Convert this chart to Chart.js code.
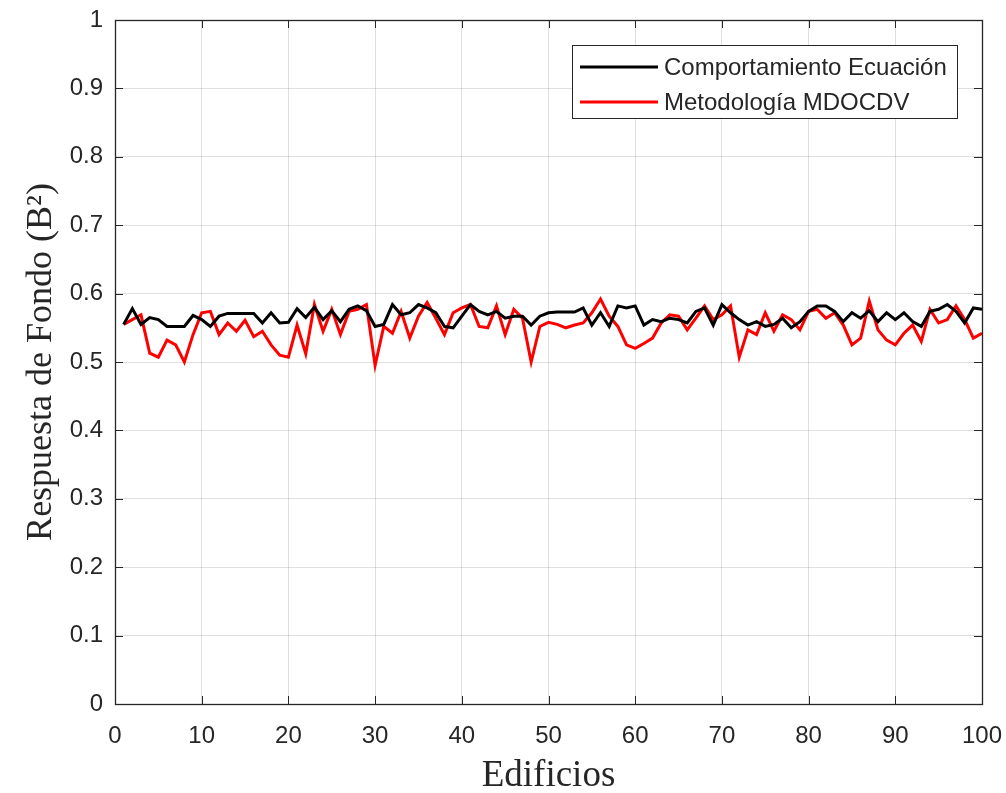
<!DOCTYPE html>
<html>
<head>
<meta charset="utf-8">
<script src="https://cdn.jsdelivr.net/npm/chart.js@4/dist/chart.umd.min.js"></script>
<style>
  html, body { margin: 0; padding: 0; background: #fff; }
  #wrap { width: 1006px; height: 793px; }
</style>
</head>
<body>
<div id="wrap"><canvas id="chart" width="1006" height="793"></canvas></div>
<script>
// ===== datos =====
const edificios = Array.from({ length: 100 }, (_, i) => i + 1);

const comportamientoEcuacion = [
  0.555, 0.578, 0.555, 0.565, 0.562, 0.552, 0.552, 0.552, 0.568, 0.562,
  0.552, 0.567, 0.571, 0.571, 0.571, 0.571, 0.557, 0.572, 0.557, 0.558,
  0.578, 0.565, 0.580, 0.562, 0.575, 0.559, 0.577, 0.582, 0.575, 0.552,
  0.555, 0.584, 0.569, 0.572, 0.584, 0.579, 0.572, 0.552, 0.550, 0.567,
  0.584, 0.574, 0.569, 0.574, 0.564, 0.567, 0.567, 0.554, 0.567, 0.572,
  0.573, 0.573, 0.573, 0.579, 0.554, 0.572, 0.552, 0.582, 0.579, 0.582,
  0.554, 0.562, 0.559, 0.564, 0.562, 0.557, 0.574, 0.579, 0.554, 0.584,
  0.572, 0.562, 0.554, 0.559, 0.552, 0.555, 0.564, 0.550, 0.559, 0.574,
  0.582, 0.582, 0.574, 0.559, 0.572, 0.564, 0.575, 0.559, 0.572, 0.562,
  0.572, 0.559, 0.552, 0.574, 0.577, 0.584, 0.574, 0.557, 0.579, 0.577
];

const metodologiaMDOCDV = [
  0.555, 0.562, 0.569, 0.513, 0.507, 0.532, 0.525, 0.500, 0.540, 0.572,
  0.574, 0.540, 0.557, 0.545, 0.561, 0.537, 0.545, 0.525, 0.510, 0.507,
  0.554, 0.512, 0.584, 0.545, 0.577, 0.540, 0.574, 0.577, 0.584, 0.495,
  0.552, 0.542, 0.574, 0.535, 0.567, 0.587, 0.564, 0.540, 0.572, 0.579,
  0.584, 0.552, 0.550, 0.582, 0.540, 0.577, 0.564, 0.500, 0.552, 0.558,
  0.555, 0.550, 0.554, 0.557, 0.572, 0.592, 0.567, 0.552, 0.525, 0.520,
  0.527, 0.535, 0.557, 0.569, 0.567, 0.547, 0.564, 0.582, 0.562, 0.569,
  0.582, 0.507, 0.547, 0.540, 0.572, 0.545, 0.569, 0.562, 0.547, 0.574,
  0.577, 0.564, 0.572, 0.554, 0.525, 0.535, 0.589, 0.547, 0.532, 0.525,
  0.542, 0.554, 0.530, 0.577, 0.557, 0.562, 0.582, 0.562, 0.535, 0.542
];

const xTickLabels = ['0', '10', '20', '30', '40', '50', '60', '70', '80', '90', '100'];
const yTickLabels = ['0', '0.1', '0.2', '0.3', '0.4', '0.5', '0.6', '0.7', '0.8', '0.9', '1'];

const AXIS_COLOR = '#262626';
const TICK_FONT = { family: "'Liberation Sans', Arial, sans-serif", size: 24 };
const TITLE_FAMILY = "'Liberation Serif', 'Times New Roman', serif";

// marco tipo MATLAB + marcas hacia dentro
const frameTicks = {
  id: 'frameTicks',
  afterDraw(chart) {
    const { ctx, chartArea: a, scales: { x, y } } = chart;
    const len = 8;
    ctx.save();
    ctx.strokeStyle = AXIS_COLOR;
    ctx.lineWidth = 1;
    ctx.beginPath();
    x.ticks.forEach(t => {
      const px = Math.round(x.getPixelForValue(t.value)) + 0.5;
      ctx.moveTo(px, a.bottom); ctx.lineTo(px, a.bottom - len);
      ctx.moveTo(px, a.top); ctx.lineTo(px, a.top + len);
    });
    y.ticks.forEach(t => {
      const py = Math.round(y.getPixelForValue(t.value)) + 0.5;
      ctx.moveTo(a.left, py); ctx.lineTo(a.left + len, py);
      ctx.moveTo(a.right, py); ctx.lineTo(a.right - len, py);
    });
    ctx.stroke();
    ctx.lineWidth = 1.3;
    ctx.strokeRect(Math.round(a.left) + 0.5, Math.round(a.top) + 0.5,
      Math.round(a.right - a.left), Math.round(a.bottom - a.top));
    ctx.restore();
  }
};

// leyenda dentro del área, arriba a la derecha, con borde
const boxLegend = {
  id: 'boxLegend',
  afterDraw(chart) {
    const { ctx, chartArea: a } = chart;
    const left = a.right - 410, top = a.top + 25;
    const w = 385, h = 73;
    ctx.save();
    ctx.fillStyle = '#fff';
    ctx.fillRect(left, top, w, h);
    ctx.strokeStyle = AXIS_COLOR;
    ctx.lineWidth = 1;
    ctx.strokeRect(left + 0.5, top + 0.5, w, h);
    ctx.font = '24px "Liberation Sans", Arial, sans-serif';
    ctx.textBaseline = 'middle';
    chart.data.datasets.forEach((ds, i) => {
      const cy = top + 22 + i * 35;
      ctx.strokeStyle = ds.borderColor;
      ctx.lineWidth = 3;
      ctx.beginPath();
      ctx.moveTo(left + 8, cy); ctx.lineTo(left + 86, cy);
      ctx.stroke();
      ctx.fillStyle = AXIS_COLOR;
      ctx.fillText(ds.label, left + 92, cy + 1);
    });
    ctx.restore();
  }
};

new Chart(document.getElementById('chart').getContext('2d'), {
  type: 'line',
  data: {
    datasets: [
      {
        label: 'Comportamiento Ecuación',
        data: edificios.map((e, i) => ({ x: e, y: comportamientoEcuacion[i] })),
        borderColor: '#000000',
        borderWidth: 3,
        pointRadius: 0,
        tension: 0
      },
      {
        label: 'Metodología MDOCDV',
        data: edificios.map((e, i) => ({ x: e, y: metodologiaMDOCDV[i] })),
        borderColor: '#ff0000',
        borderWidth: 3,
        pointRadius: 0,
        tension: 0
      }
    ]
  },
  options: {
    responsive: false,
    animation: false,
    layout: { padding: { top: 20, right: 24, left: 0, bottom: 0 } },
    plugins: {
      legend: { display: false },
      tooltip: { enabled: false }
    },
    scales: {
      x: {
        type: 'linear',
        min: 0,
        max: 100,
        ticks: {
          stepSize: 10,
          color: AXIS_COLOR,
          font: TICK_FONT,
          padding: 18,
          maxRotation: 0,
          callback: (v, i) => xTickLabels[i]
        },
        grid: { color: 'rgba(38,38,38,0.15)', drawTicks: false },
        border: { display: false },
        title: {
          display: true,
          text: 'Edificios',
          color: AXIS_COLOR,
          font: { family: TITLE_FAMILY, size: 37, lineHeight: 0.9 },
          padding: { top: 0, bottom: 0 }
        },
        afterFit: s => {
          s.height = 89;
          s.paddingLeft = 0;
          s.paddingRight = 0;
        }
      },
      y: {
        min: 0,
        max: 1,
        ticks: {
          stepSize: 0.1,
          color: AXIS_COLOR,
          font: TICK_FONT,
          padding: 12,
          callback: (v, i) => yTickLabels[i]
        },
        grid: { color: 'rgba(38,38,38,0.15)', drawTicks: false },
        border: { display: false },
        title: {
          display: true,
          text: 'Respuesta de Fondo (B²)',
          color: AXIS_COLOR,
          font: { family: TITLE_FAMILY, size: 36, lineHeight: 1.2 },
          padding: { top: 20, bottom: 0 }
        },
        afterFit: s => {
          s.width = 115;
          s.paddingTop = 0;
          s.paddingBottom = 0;
        }
      }
    }
  },
  plugins: [frameTicks, boxLegend]
});
</script>
</body>
</html>
